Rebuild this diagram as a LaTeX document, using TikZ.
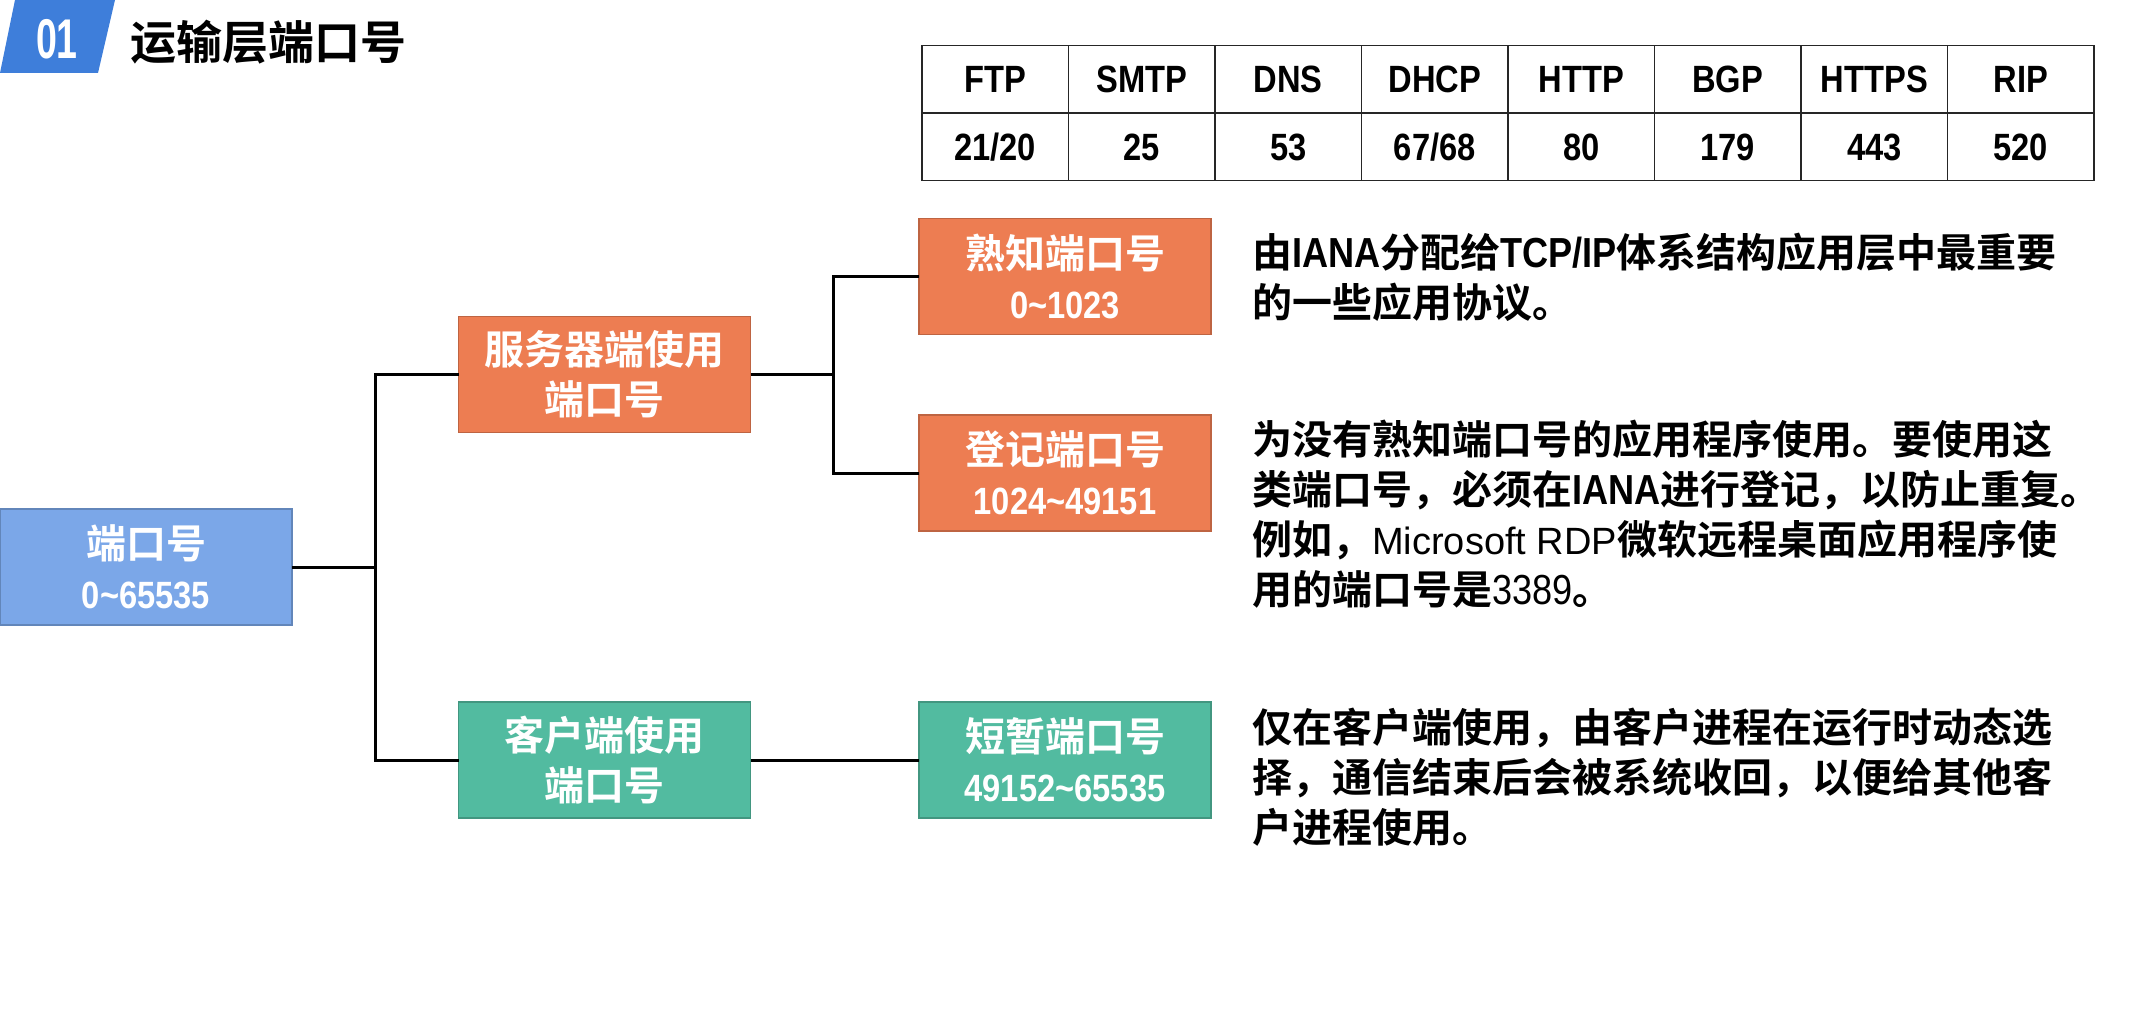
\documentclass[tikz,border=0pt]{standalone}
\usepackage{fontspec}
\setmainfont{Noto Sans CJK SC}[BoldFont={Noto Sans CJK SC Bold}]
\newfontfamily\narrowfont{Liberation Sans}[FakeStretch=0.86]
\newfontfamily\latinfont{Liberation Sans}
\usetikzlibrary{positioning}
\usepackage{xcolor}
\definecolor{badgeblue}{RGB}{62,126,218}
\definecolor{rootblue}{RGB}{123,167,232}
\definecolor{servorange}{RGB}{237,125,82}
\definecolor{clientgreen}{RGB}{82,187,160}
\newcommand{\nums}{\narrowfont\bfseries\fontsize{38}{50}\selectfont}
\newcommand{\tld}{\textasciitilde}
\newcommand{\lat}[1]{{\narrowfont\bfseries\fontsize{42}{50}\selectfont #1}}

\begin{document}
\begin{tikzpicture}[x=1pt, y=-1pt,
        portbox/.style={draw=#1!80!black, fill=#1, line width=1.5pt, minimum width=292pt,
            minimum height=116pt, inner sep=0pt, outer sep=0pt, align=center, text=white,
            font=\fontsize{40}{50}\selectfont\bfseries},
        cell/.style={draw=black!85, line width=1.5pt, minimum width=146.5pt, minimum height=67.5pt,
            inner sep=0pt, outer sep=0pt, font=\nums},
        note/.style={anchor=north west, inner sep=0pt, align=left,
            font=\fontsize{40}{50}\selectfont\bfseries},
        link/.style={line width=3pt}]
            \useasboundingbox (0,0) rectangle (2134,1016);

            % title
            \fill[badgeblue] (15,0) -- (115,0) -- (98,73) -- (0,73) -- cycle;
            \node[text=white, font=\narrowfont\bfseries\fontsize{56}{56}\selectfont] (badge) at (57,39) {\scalebox{0.78}[1]{01}};
            \node[anchor=west, inner sep=0pt, font=\fontsize{46}{50}\selectfont\bfseries] (title) at (130,42) {运输层端口号};

            % table of well-known ports
            \foreach \proto/\port [count=\i from 0] in {FTP/{21/20}, SMTP/25, DNS/53, DHCP/{67/68}, HTTP/80, BGP/179, HTTPS/443, RIP/520} {
                \node[cell] (h\i) at ({995.25+146.5*\i}, 79.5) {\proto};
                \node[cell, below=0pt of h\i] (n\i) {\port};
            }

            % tree
            \node[portbox=rootblue] (root) at (146,567) {端口号\\{\nums 0\tld 65535}};
            \node[portbox=servorange] (server) at (604.5,374.5) {服务器端使用\\端口号};
            \node[portbox=clientgreen] (client) at (604.5,760) {客户端使用\\端口号};
            \node[portbox=servorange] (known) at (1065,276.5) {熟知端口号\\{\nums 0\tld 1023}};
            \node[portbox=servorange] (reg) at (1065,473) {登记端口号\\{\nums 1024\tld 49151}};
            \node[portbox=clientgreen] (eph) at (1065,760) {短暂端口号\\{\nums 49152\tld 65535}};

            \coordinate (j1) at (375,567);
            \coordinate (j2) at (833,374.5);
            \draw[link] (root.east) -- (j1) |- (server.west);
            \draw[link] (j1) |- (client.west);
            \draw[link] (server.east) -- (j2) |- (known.west);
            \draw[link] (j2) |- (reg.west);
            \draw[link] (client.east) -- (eph.west);

            % notes
            \node[note] (knownnote) at (1252,233) {由\lat{IANA}分配给\lat{TCP/IP}体系结构应用层中最重要\\的一些应用协议。};
            \node[note] (regnote) at (1252,420) {为没有熟知端口号的应用程序使用。要使用这\\类端口号，必须在\lat{IANA}进行登记，以防止重复。\\例如，{\latinfont\mdseries\fontsize{38}{50}\selectfont Microsoft RDP}微软远程桌面应用程序使\\用的端口号是{\narrowfont\mdseries\fontsize{42}{50}\selectfont 3389}。};
            \node[note] (ephnote) at (1252,708) {仅在客户端使用，由客户进程在运行时动态选\\择，通信结束后会被系统收回，以便给其他客\\户进程使用。};
        \end{tikzpicture}
\end{document}
